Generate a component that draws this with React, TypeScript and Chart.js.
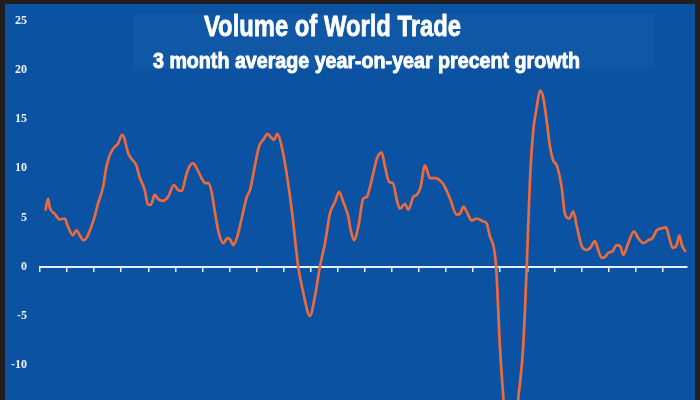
import React, { useEffect, useRef } from "react";
import { Chart, registerables } from "chart.js";

Chart.register(...registerables);

const titleText = "Volume of World Trade";
const subtitleText = "3 month average year-on-year precent growth";

const yTickValues = [-10, -5, 0, 5, 10, 15, 20, 25];

const years = [
  1990.2, 1990.3, 1990.36, 1990.54, 1990.73, 1990.91, 1991.03, 1991.22, 1991.34, 1991.47,
  1991.59, 1991.71, 1991.9, 1992.02, 1992.14, 1992.33, 1992.45, 1992.57, 1992.66, 1992.76,
  1992.88, 1993.03, 1993.1, 1993.25, 1993.37, 1993.56, 1993.68, 1993.87, 1993.99, 1994.09,
  1994.24, 1994.36, 1994.54, 1994.73, 1994.95, 1995.1, 1995.23, 1995.42, 1995.54, 1995.66,
  1995.79, 1995.97, 1996.1, 1996.22, 1996.34, 1996.47, 1996.59, 1996.77, 1996.92, 1997.04,
  1997.14, 1997.27, 1997.45, 1997.64, 1997.76, 1997.94, 1998.1, 1998.25, 1998.4, 1998.52,
  1998.64, 1998.77, 1998.93, 1999.11, 1999.3, 1999.54, 1999.73, 1999.97, 2000.17, 2000.34,
  2000.53, 2000.71, 2000.9, 2001.05, 2001.2, 2001.39, 2001.48, 2001.6, 2001.76, 2001.94,
  2002.07, 2002.19, 2002.31, 2002.46, 2002.62, 2002.75, 2002.9, 2003.04, 2003.18, 2003.3,
  2003.48, 2003.61, 2003.79, 2003.92, 2004.06, 2004.22, 2004.41, 2004.59, 2004.84, 2004.96,
  2005.15, 2005.39, 2005.52, 2005.64, 2005.76, 2005.95, 2006.13, 2006.38, 2006.5, 2006.62,
  2006.75, 2006.85, 2006.99, 2007.12, 2007.24, 2007.36, 2007.48, 2007.58, 2007.67, 2007.85,
  2007.98, 2008.1, 2008.22, 2008.35, 2008.47, 2008.59, 2008.72, 2008.84, 2008.96, 2009.09,
  2009.27, 2009.39, 2009.55, 2009.7, 2009.83, 2010.01, 2010.2, 2010.32, 2010.5, 2010.62,
  2010.75, 2010.87, 2010.99, 2011.16, 2011.3, 2011.43, 2011.55, 2011.73, 2011.94, 2012.1,
  2012.29, 2012.47, 2012.63, 2012.78, 2012.97, 2013.13, 2013.25, 2013.37, 2013.52, 2013.62,
  2013.71, 2013.86,
];

const growth = [
  5.7, 6.9, 6.0, 5.4, 4.8, 4.9, 4.1, 3.2, 3.7, 3.2,
  2.7, 2.9, 4.1, 5.1, 6.4, 8.1, 10.1, 11.3, 11.8, 12.2,
  12.5, 13.4, 13.2, 11.6, 11.0, 10.3, 9.1, 7.8, 6.3, 6.3,
  7.3, 6.9, 6.7, 7.1, 8.3, 7.8, 7.7, 9.5, 10.3, 10.5,
  10.0, 9.0, 8.5, 8.5, 7.6, 5.4, 3.6, 2.4, 2.9, 2.7,
  2.2, 2.9, 4.9, 7.1, 7.8, 10.3, 12.3, 12.9, 13.5, 13.2,
  12.9, 13.5, 12.2, 9.5, 5.8, 0.0, -2.7, -5.0, -2.8, 0.0,
  2.4, 5.4, 6.6, 7.6, 6.6, 5.1, 3.7, 2.7, 4.1, 6.9,
  7.1, 8.1, 9.5, 11.1, 11.6, 10.1, 8.6, 8.5, 6.8, 5.9,
  6.4, 5.8, 7.1, 7.3, 8.1, 10.3, 9.0, 9.0, 8.6, 8.1,
  6.9, 5.3, 5.4, 6.1, 5.6, 4.7, 4.9, 4.6, 4.4, 3.1,
  2.1, 0.0, -8.1, -13.4, -17.0, -19.0, -18.0, -16.0, -13.4, -8.1,
  0.0, 8.8, 13.8, 16.2, 17.9, 17.2, 14.8, 12.2, 10.8, 10.3,
  8.1, 5.4, 4.9, 5.6, 4.1, 2.1, 1.7, 1.9, 2.6, 1.7,
  0.9, 1.0, 1.4, 1.6, 2.2, 2.1, 1.2, 2.4, 3.6, 2.9,
  2.4, 2.7, 2.9, 3.7, 3.9, 4.0, 2.9, 1.9, 2.2, 3.2,
  2.2, 1.5,
];

const BG = "#0b52a2";
const BOX = "#1058a6";
const FRAME = "#231f20";

const backgroundPlugin = {
  id: "bgPlugin",
  beforeDraw(chart: any) {
    const { ctx, width, height } = chart;
    ctx.save();
    ctx.fillStyle = BG;
    ctx.fillRect(0, 0, width, height);
    ctx.fillStyle = BOX;
    ctx.fillRect(128, 10, 522, 55);
    ctx.restore();
  },
};

function drawCondensed(ctx: CanvasRenderingContext2D, text: string, x: number, y: number, targetW: number, font: string, stroke: number) {
  ctx.save();
  ctx.font = font;
  ctx.fillStyle = "#ffffff";
  ctx.strokeStyle = "#ffffff";
  ctx.textBaseline = "alphabetic";
  ctx.textAlign = "left";
  const w = ctx.measureText(text).width;
  const s = targetW / w;
  ctx.translate(x, y);
  ctx.scale(s, 1);
  ctx.lineWidth = stroke;
  ctx.lineJoin = "round";
  ctx.strokeText(text, 0, 0);
  ctx.fillText(text, 0, 0);
  ctx.restore();
}

const titlePlugin = {
  id: "titlePlugin",
  afterDraw(chart: any) {
    const { ctx } = chart;
    drawCondensed(ctx, titleText, 199, 32, 257, "bold 30px 'Liberation Sans', Arial, sans-serif", 0.8);
    drawCondensed(ctx, subtitleText, 148, 64, 427, "bold 22px 'Liberation Sans', Arial, sans-serif", 0.9);
  },
};

export default function App() {
  const ref = useRef<HTMLCanvasElement | null>(null);

  useEffect(() => {
    document.body.style.margin = "0";
    if (!ref.current) return;
    const chart = new Chart(ref.current, {
      type: "line",
      data: {
        datasets: [
          {
            data: years.map((x, i) => ({ x, y: growth[i] })),
            borderColor: "#ec6a3c",
            borderWidth: 2.7,
            pointRadius: 0,
            cubicInterpolationMode: "monotone",
            fill: false,
          },
        ],
      },
      options: {
        animation: false,
        responsive: false,
        devicePixelRatio: 1,
        layout: { padding: { left: 0, right: 8.3, top: 0, bottom: 0 } },
        plugins: { legend: { display: false }, tooltip: { enabled: false }, title: { display: false } },
        scales: {
          x: {
            type: "linear",
            position: { y: 0 } as any,
            min: 1990,
            max: 2013.89,
            ticks: { display: false, stepSize: 1, includeBounds: false },
            grid: { drawOnChartArea: false, drawTicks: true, tickLength: 4, color: "#e6eef8", lineWidth: 1.5 },
            border: { display: true, color: "#e6eef8", width: 2 },
          },
          y: {
            type: "linear",
            min: -13.56,
            max: 26.72,
            afterBuildTicks(scale: any) {
              scale.ticks = yTickValues.map((v) => ({ value: v }));
            },
            afterFit(scale: any) {
              scale.width = 35;
              scale.paddingTop = 0;
              scale.paddingBottom = 0;
            },
            ticks: {
              color: "#eef2f8",
              padding: 13,
              font: { family: "'Liberation Serif', 'Times New Roman', serif", size: 12, weight: "bold" },
            },
            grid: { display: false, drawTicks: false },
            border: { display: false },
          },
        },
      } as any,
      plugins: [backgroundPlugin, titlePlugin],
    });
    return () => chart.destroy();
  }, []);

  return (
    <div
      style={{
        position: "absolute",
        left: 0,
        top: 0,
        width: 700,
        height: 400,
        background: FRAME,
        boxSizing: "border-box",
        paddingTop: 4,
        paddingLeft: 5,
        overflow: "hidden",
      }}
    >
      <canvas ref={ref} width={690} height={396} style={{ display: "block", width: 690, height: 396 }} />
    </div>
  );
}
